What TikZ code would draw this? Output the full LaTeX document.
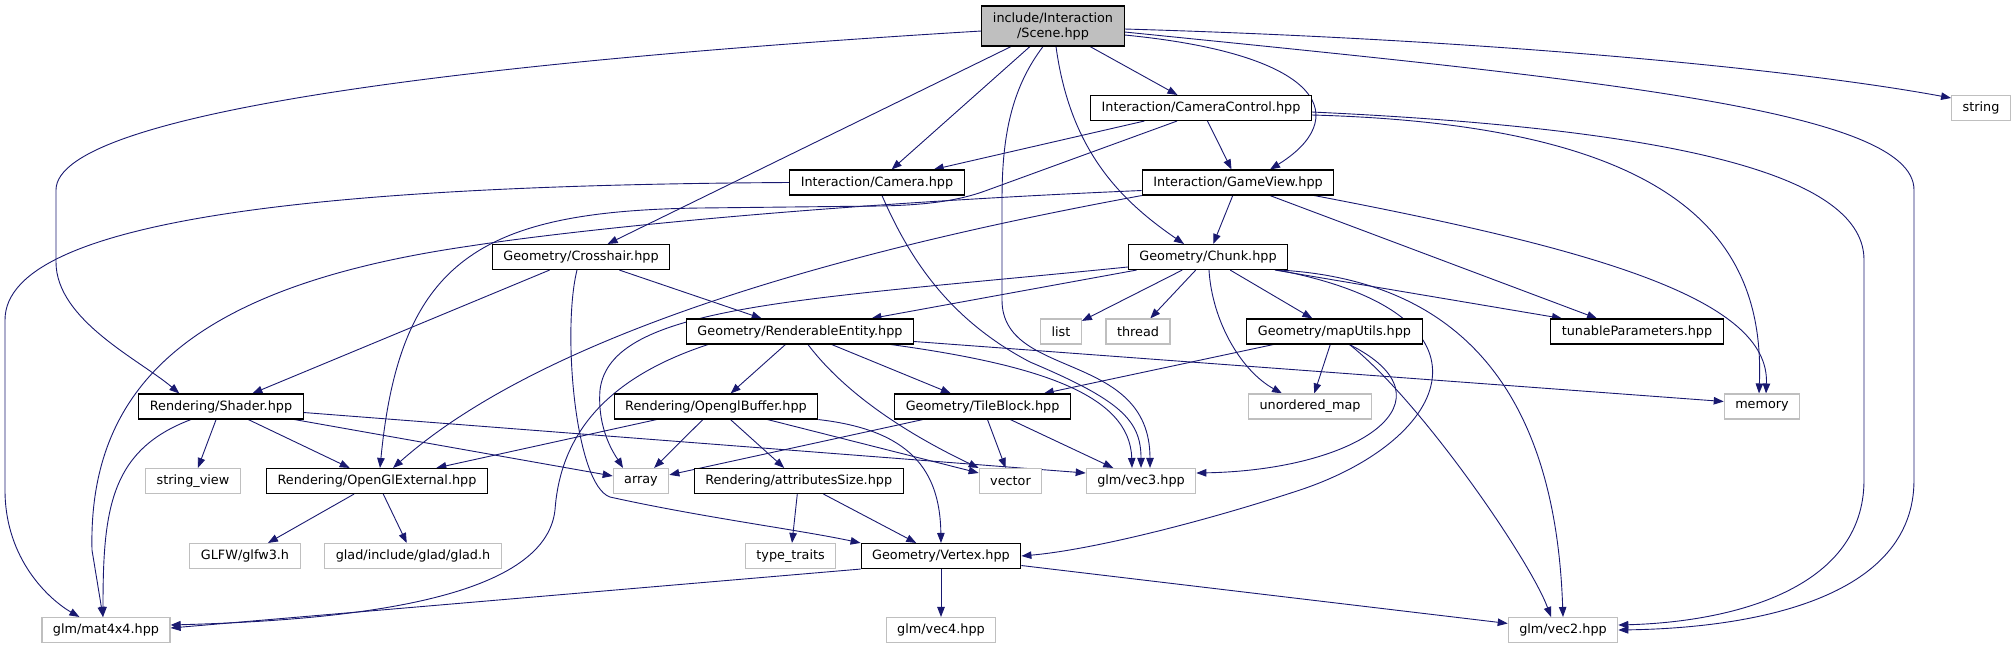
\documentclass[tikz,border=0pt]{standalone}
\usepackage{fontspec}
\setmainfont{DejaVu Sans}
\usetikzlibrary{arrows.meta,backgrounds}
\definecolor{edgeblue}{HTML}{191970}
\definecolor{sysgray}{HTML}{BFBFBF}

\begin{document}
\begin{tikzpicture}[x=1pt,y=-1pt,
		font=\fontsize{12.8}{15}\selectfont,
		hdr/.style={draw=black,line width=1.1pt,fill=white,inner xsep=11pt,inner ysep=0pt,minimum height=25pt},
		sys/.style={draw=sysgray,line width=1.1pt,fill=white,inner xsep=11pt,inner ysep=0pt,minimum height=25pt},
		root/.style={hdr,fill=sysgray,align=center,minimum height=40pt},
		dep/.style={draw=edgeblue,line width=0.9pt,-{Triangle[length=10pt,width=7.5pt]}}]
		\useasboundingbox (0,0) rectangle (2016,649);
		
		% headers, row by row
		\node[root] (scene) at (1053,26) {include/Interaction\\/Scene.hpp};
		\node[hdr] (camctrl) at (1201,108) {Interaction/CameraControl.hpp};
		\node[sys] (string) at (1981,108) {string};
		\node[hdr] (camera) at (877,182.5) {Interaction/Camera.hpp};
		\node[hdr] (gameview) at (1238,182.5) {Interaction/GameView.hpp};
		\node[hdr] (crosshair) at (581,257) {Geometry/Crosshair.hpp};
		\node[hdr] (chunk) at (1208,257) {Geometry/Chunk.hpp};
		\node[hdr] (renderable) at (800,331.5) {Geometry/RenderableEntity.hpp};
		\node[sys] (list) at (1061,331.5) {list};
		\node[sys] (thread) at (1138,331.5) {thread};
		\node[hdr] (maputils) at (1334.5,331.5) {Geometry/mapUtils.hpp};
		\node[hdr] (tunable) at (1637,331.5) {tunableParameters.hpp};
		\node[hdr] (shader) at (221,406.5) {Rendering/Shader.hpp};
		\node[hdr] (glbuffer) at (716,406.5) {Rendering/OpenglBuffer.hpp};
		\node[hdr] (tileblock) at (982.6,406.5) {Geometry/TileBlock.hpp};
		\node[sys] (umap) at (1310,406.5) {unordered\_map};
		\node[sys] (memory) at (1762,406.5) {memory};
		\node[sys] (strview) at (193,481) {string\_view};
		\node[hdr] (glext) at (377,481) {Rendering/OpenGlExternal.hpp};
		\node[sys] (array) at (641,481) {array};
		\node[hdr] (attrsize) at (798.7,481) {Rendering/attributesSize.hpp};
		\node[sys] (vector) at (1010.5,481) {vector};
		\node[sys] (vecthree) at (1141,481) {glm/vec3.hpp};
		\node[sys] (glfw) at (245,556) {GLFW/glfw3.h};
		\node[sys] (glad) at (413,556) {glad/include/glad/glad.h};
		\node[sys] (typetr) at (790.6,556) {type\_traits};
		\node[hdr] (vertex) at (941,556) {Geometry/Vertex.hpp};
		\node[sys] (matfour) at (106,630) {glm/mat4x4.hpp};
		\node[sys] (vecfour) at (941,630) {glm/vec4.hpp};
		\node[sys] (vectwo) at (1563,630) {glm/vec2.hpp};
		
		\begin{scope}[on background layer]
			% Scene.hpp
			\draw[dep] ([yshift=-5pt]scene.west) .. controls (500,60) and (56,110) .. (56,190) -- (56,262) .. controls (56,320) and (140,360) .. ([xshift=41pt]shader.north west);
			\draw[dep] (scene) -- (crosshair);
			\draw[dep] (scene) -- (camera);
			\draw[dep] ([xshift=-10pt]scene.south) .. controls (1010,90) and (1002,140) .. (1002,200) -- (1002,300) .. controls (1002,380) and (1150,350) .. ([xshift=9pt]vecthree.north);
			\draw[dep] ([xshift=3pt]scene.south) .. controls (1070,150) and (1120,200) .. ([xshift=-24pt]chunk.north);
			\draw[dep] (scene) -- (camctrl);
			\draw[dep] ([yshift=-9pt]scene.east) .. controls (1330,55) and (1350,120) .. ([xshift=32pt]gameview.north);
			\draw[dep] ([yshift=-3pt]scene.east) .. controls (1500,40) and (1800,70) .. ([yshift=10pt]string.west);
			\draw[dep] ([yshift=-6pt]scene.east) .. controls (1600,80) and (1914,110) .. (1914,190) -- (1914,480) .. controls (1914,600) and (1750,628) .. (vectwo.east);
			
			% CameraControl.hpp
			\draw[dep] (camctrl) -- (camera);
			\draw[dep] (camctrl) -- (gameview);
			\draw[dep] ([xshift=-24pt]camctrl.south) -- (985,191) .. controls (960,200) and (930,205) .. (880,206) -- (700,208) .. controls (480,211) and (400,260) .. ([xshift=3pt]glext.north);
			\draw[dep] ([yshift=-7pt]camctrl.east) .. controls (1680,125) and (1765,240) .. ([xshift=-3pt]memory.north);
			\draw[dep] ([yshift=-4pt]camctrl.east) .. controls (1700,130) and (1864,180) .. (1864,260) -- (1864,480) .. controls (1864,590) and (1730,622) .. ([yshift=5pt]vectwo.east);
			
			% Camera.hpp
			\draw[dep] (camera.west) .. controls (350,185) and (5,215) .. (5,320) -- (5,490) .. controls (5,560) and (50,600) .. ([xshift=38pt]matfour.north west);
			\draw[dep] ([xshift=5pt]camera.south) .. controls (910,260) and (950,320) .. (1030,362) .. controls (1120,400) and (1141,420) .. (vecthree.north);
			
			% GameView.hpp
			\draw[dep] (gameview) -- (chunk);
			\draw[dep] ([xshift=32pt]gameview.south) -- ([xshift=-40pt]tunable.north);
			\draw[dep] ([xshift=-20pt]gameview.south east) .. controls (1600,250) and (1770,300) .. ([xshift=4pt]memory.north);
			\draw[dep] (gameview.south west) .. controls (900,240) and (560,320) .. ([xshift=16pt]glext.north);
			\draw[dep] ([yshift=-8pt]gameview.west) .. controls (800,205) and (560,232) .. (470,246) .. controls (200,285) and (88,380) .. (92,550) -- ([xshift=-3pt]matfour.north);
			
			% Chunk.hpp
			\draw[dep] (chunk) -- (renderable);
			\draw[dep] ([yshift=-10pt]chunk.west) .. controls (800,300) and (610,305) .. (600,390) .. controls (597,430) and (615,455) .. ([xshift=-18pt]array.north);
			\draw[dep] (chunk) -- (list);
			\draw[dep] (chunk) -- (thread);
			\draw[dep] (chunk) -- (maputils);
			\draw[dep] ([xshift=1pt]chunk.south) .. controls (1212,320) and (1240,370) .. ([xshift=-28pt]umap.north);
			\draw[dep] ([xshift=67pt]chunk.south) -- ([xshift=-75pt]tunable.north);
			\draw[dep] ([xshift=72pt]chunk.south) .. controls (1450,280) and (1555,380) .. (vectwo.north);
			\draw[dep] ([xshift=70pt]chunk.south) .. controls (1510,315) and (1450,440) .. (1300,490) .. controls (1200,523) and (1090,550) .. (vertex.east);
			
			% mapUtils.hpp
			\draw[dep] (maputils) -- (tileblock);
			\draw[dep] (maputils) -- (umap);
			\draw[dep] ([xshift=15pt]maputils.south) .. controls (1460,400) and (1360,470) .. ([yshift=8pt]vecthree.east);
			\draw[dep] ([xshift=15pt]maputils.south) .. controls (1420,400) and (1530,560) .. ([xshift=-12pt]vectwo.north);
			
			% RenderableEntity.hpp
			\draw[dep] (renderable) -- (glbuffer);
			\draw[dep] (renderable) -- (tileblock);
			\draw[dep] ([xshift=8pt]renderable.south) .. controls (850,400) and (920,440) .. (vector.north west);
			\draw[dep] ([xshift=91pt]renderable.south) .. controls (1040,365) and (1130,395) .. ([xshift=-9pt]vecthree.north);
			\draw[dep] ([yshift=-10pt]renderable.east) -- ([yshift=5pt]memory.west);
			\draw[dep] ([xshift=-92pt]renderable.south) .. controls (600,380) and (560,440) .. (555,510) .. controls (545,600) and (350,620) .. ([yshift=5pt]matfour.east);
			
			% OpenglBuffer.hpp
			\draw[dep] (glbuffer) -- (glext);
			\draw[dep] (glbuffer) -- (array);
			\draw[dep] (glbuffer) -- (attrsize);
			\draw[dep] (glbuffer) -- (vector);
			\draw[dep] (glbuffer.south east) .. controls (910,430) and (940,470) .. (vertex.north);
			
			% TileBlock.hpp
			\draw[dep] (tileblock) -- (array);
			\draw[dep] (tileblock) -- (vector);
			\draw[dep] (tileblock) -- (vecthree);
			
			% attributesSize.hpp
			\draw[dep] (attrsize) -- (typetr);
			\draw[dep] (attrsize) -- (vertex);
			
			% Vertex.hpp
			\draw[dep] (vertex.south west) -- ([yshift=2pt]matfour.east);
			\draw[dep] (vertex) -- (vecfour);
			\draw[dep] (vertex) -- (vectwo);
			
			% Shader.hpp
			\draw[dep] (shader) -- (strview);
			\draw[dep] (shader) -- (glext);
			\draw[dep] (shader) -- (array);
			\draw[dep] ([yshift=-6pt]shader.east) -- ([yshift=8pt]vecthree.west);
			\draw[dep] ([xshift=-30pt]shader.south) .. controls (110,450) and (103,510) .. ([xshift=-3pt]matfour.north);
			
			% OpenGlExternal.hpp
			\draw[dep] (glext) -- (glfw);
			\draw[dep] (glext) -- (glad);
			
			% Crosshair.hpp
			\draw[dep] (crosshair) -- (shader);
			\draw[dep] (crosshair) -- (renderable);
			\draw[dep] ([xshift=-4pt]crosshair.south) .. controls (562,330) and (575,485) .. (610,497) .. controls (700,517) and (800,530) .. (vertex.north west);
		\end{scope}
	\end{tikzpicture}
\end{document}
